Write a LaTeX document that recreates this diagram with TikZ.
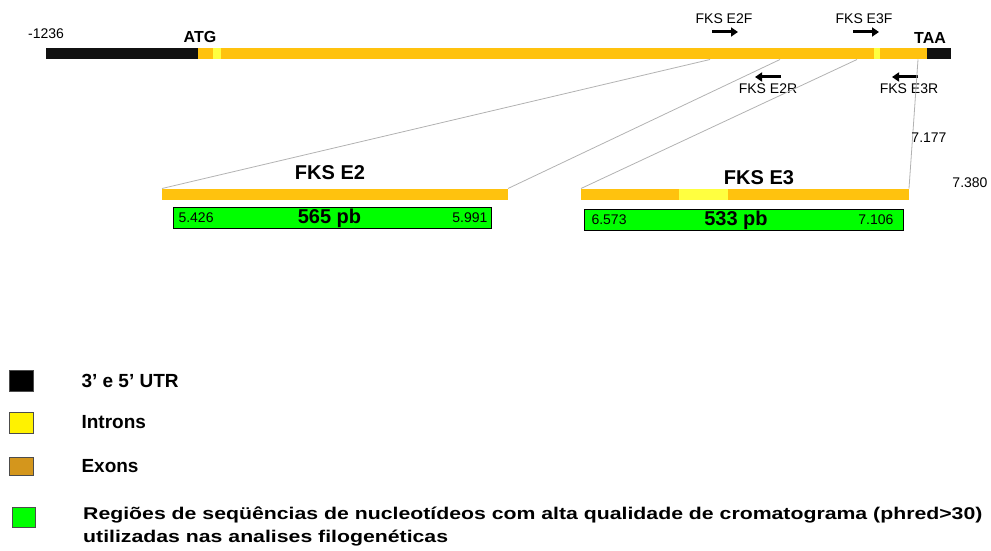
\documentclass[tikz,border=0pt]{standalone}
\usepackage{fontspec}
\setmainfont{Liberation Sans}
\newfontfamily\widefont[FakeStretch=1.25]{Liberation Sans}
\usepackage{xcolor}
\usetikzlibrary{arrows.meta,positioning}
\definecolor{exoncol}{HTML}{FFC20E}
\definecolor{introncol}{HTML}{FFFF40}
\definecolor{utrcol}{HTML}{111111}
\definecolor{hqcol}{HTML}{00FF00}
\definecolor{keyexon}{HTML}{D4961C}
\tikzset{bar/.style={inner sep=0pt,outer sep=0pt,minimum height=11pt,anchor=west},
         hq/.style={draw=black,fill=hqcol,line width=1pt,inner sep=0pt,minimum height=21pt,anchor=west},
         zoomline/.style={draw=black!30,line width=0.8pt},
         primer/.style={line width=3pt,-{Triangle[length=7pt,width=9pt]}},
         key/.style={draw=black!70,line width=0.8pt,inner sep=0pt,minimum width=24pt,minimum height=21pt,anchor=west},
         num/.style={font=\fontsize{14}{16}\selectfont},
         big/.style={font=\fontsize{20}{24}\selectfont\bfseries},
         keytext/.style={font=\fontsize{19}{22}\selectfont\bfseries,anchor=west}}

\begin{document}
\begin{tikzpicture}[x=1pt,y=-1pt]
    \useasboundingbox (0,0) rectangle (991,551);

    % main gene
    \node[bar,fill=utrcol,minimum width=152pt] (utr5) at (46,53.5) {};
    \node[bar,fill=exoncol,minimum width=730pt] (gene) at (198,53.5) {};
    \node[bar,fill=utrcol,minimum width=24pt] (utr3) at (927,53.5) {};
    \node[bar,fill=introncol,minimum width=8pt] (in1) at (213,53.5) {};
    \node[bar,fill=introncol,minimum width=6pt] (in2) at (874,53.5) {};

    \node[num] (start) at (46,34) {-1236};
    \node[font=\fontsize{16}{18}\selectfont\bfseries] (atg) at (200,37) {ATG};
    \node[font=\fontsize{16}{18}\selectfont\bfseries] (taa) at (930,38) {TAA};

    % primers
    \node[num] (e2f) at (724,19) {FKS E2F};
    \node[num] (e3f) at (864,19) {FKS E3F};
    \node[num] (e2r) at (768,89) {FKS E2R};
    \node[num] (e3r) at (909,89) {FKS E3R};
    \draw[primer] (712,32) -- (738,32);
    \draw[primer] (853,32) -- (879,32);
    \draw[primer] (781,77) -- (755,77);
    \draw[primer] (918,77) -- (892,77);

    % fragments
    \node[bar,fill=exoncol,minimum width=346pt] (frag2) at (162,194) {};
    \node[bar,fill=exoncol,minimum width=328pt] (frag3) at (581,194) {};
    \node[bar,fill=introncol,minimum width=49pt] (in3) at (679,194) {};
    \node[big] (lab2) at (330,173) {FKS E2};
    \node[big] (lab3) at (759,178) {FKS E3};

    \coordinate (c1) at (710,59.5);
    \coordinate (c2) at (780,59.5);
    \coordinate (c3) at (857,59.5);
    \coordinate (c4) at (918,59.5);
    \draw[zoomline] (c1) -- (frag2.north west);
    \draw[zoomline] (c2) -- (frag2.north east);
    \draw[zoomline] (c3) -- (frag3.north west);
    \draw[zoomline] (c4) -- (frag3.north east);

    \node[num] (p7177) at (929,138) {7.177};
    \node[num] (p7380) at (970,183) {7.380};

    % high quality regions
    \node[hq,minimum width=318pt] (hq2) at (173,218) {};
    \node[hq,minimum width=319pt] (hq3) at (584,220) {};
    \node[big] at ([xshift=-3pt]hq2.center) {565 pb};
    \node[big] at ([xshift=-8pt]hq3.center) {533 pb};
    \node[num,anchor=west] at ([xshift=2pt]hq2.west) {5.426};
    \node[num,anchor=east] at ([xshift=-1pt]hq2.east) {5.991};
    \node[num,anchor=west] at ([xshift=4pt]hq3.west) {6.573};
    \node[num,anchor=east] at ([xshift=-7pt]hq3.east) {7.106};

    % legend
    \node[key,fill=black] (k1) at (9,381) {};
    \node[key,fill=yellow] (k2) at (9,422.5) {};
    \node[key,fill=keyexon,minimum height=18pt] (k3) at (9,466) {};
    \node[key,fill=hqcol,minimum width=23pt,minimum height=20pt] (k4) at (12,517) {};
    \node[keytext] at (78,381) {3’ e 5’ UTR};
    \node[keytext] at (78,422) {Introns};
    \node[keytext] at (78,466) {Exons};
    \node[font=\widefont\fontsize{17}{23}\selectfont\bfseries,anchor=north west,align=left,inner sep=0pt] at (83,507) {Regiões de seqüências de nucleotídeos com alta qualidade de cromatograma (phred>30)\\utilizadas nas analises filogenéticas};
\end{tikzpicture}
\end{document}
